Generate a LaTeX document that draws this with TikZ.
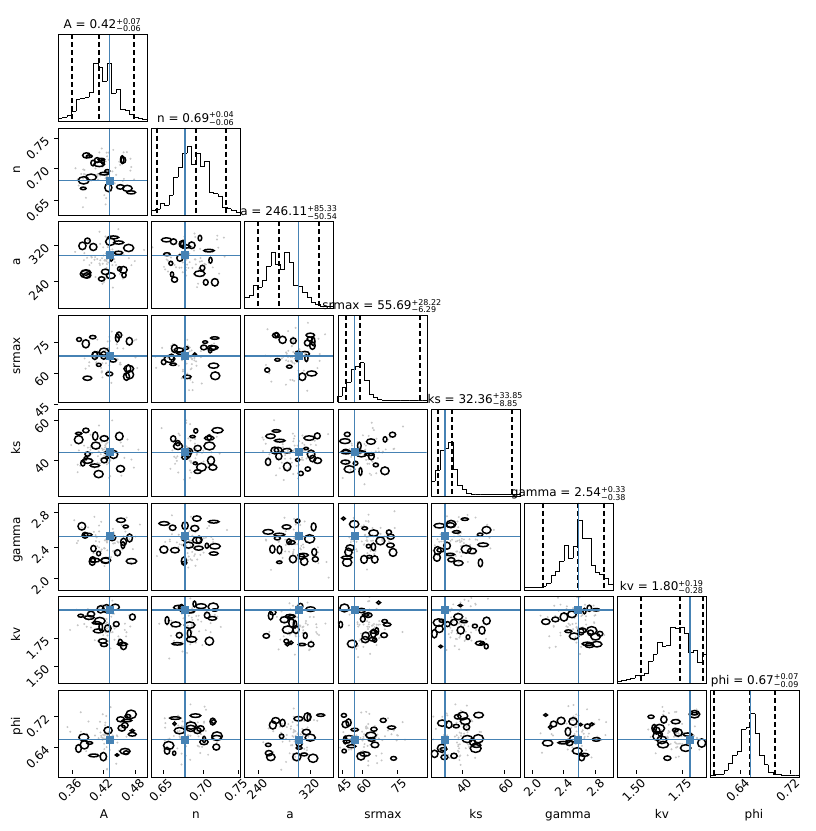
\documentclass[tikz,border=0pt]{standalone}
\usepackage{fontspec}
\setmainfont{DejaVu Sans}
\definecolor{tb}{HTML}{4682B4}
\newcommand\ud[2]{\ensuremath{^{\mbox{\fontsize{8}{9}\selectfont#1}}_{\mbox{\fontsize{8}{9}\selectfont#2}}}}
\begin{document}
\begin{tikzpicture}[x=1pt,y=-1pt,font=\fontsize{12}{14}\selectfont,
  tl/.style={inner sep=1pt}]
\useasboundingbox (0,0) rectangle (815,831);
\pgfmathsetseed{7}
\def\tx{{0.58,0.38,0.61,0.19,0.16,0.61,0.82,0.45}}
\def\ty{{0,0.61,0.39,0.47,0.5,0.39,0.16,0.57}}
\def\hc{{0.47,0.48,0.37,0.22,0.18,0.62,0.7,0.42}}
\def\hw{{0.22,0.25,0.25,0.12,0.12,0.22,0.3,0.15}}
% off-diagonal panels
\foreach \j in {1,...,7}{
 \pgfmathtruncatemacro\jm{\j-1}
 \foreach \i in {0,...,\jm}{
  \pgfmathsetmacro\X{58+\i*93.2}
  \pgfmathsetmacro\Y{34+\j*93.7}
  \pgfmathsetmacro\bx{\X+89*\tx[\i]}
  \pgfmathsetmacro\by{\Y+87*\ty[\j]}
  \pgfmathsetmacro\cx{0.5*\bx+0.5*(\X+44)}
  \pgfmathsetmacro\cy{0.5*\by+0.5*(\Y+43)}
  \begin{scope}
   \clip (\X,\Y) rectangle ({\X+89},{\Y+87});
   \foreach \k in {1,...,60}{\fill[gray!45] ({\cx+80*(rnd-0.5)*rnd},{\cy+75*(rnd-0.5)*rnd}) circle (1.1);}
   \foreach \k in {1,...,18}{\draw[line width=1.5pt] ({\cx+55*(rnd-0.5)},{\cy+45*(rnd-0.5)}) ellipse ({1.5+4*rnd} and {1.2+3*rnd});}
   \draw[tb,line width=1.4pt] (\bx,\Y) -- (\bx,{\Y+87});
   \draw[tb,line width=1.4pt] (\X,\by) -- ({\X+89},\by);
   \fill[tb] ({\bx-4},{\by-4}) rectangle ({\bx+4},{\by+4});
  \end{scope}
  \node[draw,line width=0.6pt,minimum width=89pt,minimum height=87pt,anchor=north west,inner sep=0] (p\i\j) at (\X,\Y) {};
 }}
% diagonal panels
\foreach \i/\ttl/\da/\db/\dc in {
 0/{A = 0.42\ud{+0.07}{−0.06}}/72/99/134,
 1/{n = 0.69\ud{+0.04}{−0.06}}/157/196/226,
 2/{a = 246.11\ud{+85.33}{−50.54}}/258/279/319,
 3/{srmax = 55.69\ud{+28.22}{−6.29}}/346/360/420,
 4/{ks = 32.36\ud{+33.85}{−8.85}}/438/452/512,
 5/{gamma = 2.54\ud{+0.33}{−0.38}}/543/578/604,
 6/{kv = 1.80\ud{+0.19}{−0.28}}/641/680/703,
 7/{phi = 0.67\ud{+0.07}{−0.09}}/714/750/775}{
  \pgfmathsetmacro\X{58+\i*93.2}
  \pgfmathsetmacro\Y{34+\i*93.7}
  \pgfmathsetmacro\Yb{\Y+87}
  \pgfmathsetmacro\bx{\X+89*\tx[\i]}
  \pgfmathsetmacro\c{\hc[\i]}
  \pgfmathsetmacro\w{\hw[\i]}
  \xdef\prev{0}
  \foreach \k in {0,...,19}{
   \pgfmathsetmacro\xa{\X+\k*4.45}
   \pgfmathsetmacro\f{(\k+0.5)/20}
   \pgfmathsetmacro\h{2+72*exp(-((\f-\c)/\w)^2)*(0.45+0.55*rnd)}
   \draw (\xa,{\Yb-\prev}) -- (\xa,{\Yb-\h}) -- ({\xa+4.45},{\Yb-\h});
   \xdef\prev{\h}
  }
  \draw[dash pattern=on 5pt off 3pt,line width=1.2pt] (\da,\Y) -- (\da,\Yb) (\db,\Y) -- (\db,\Yb) (\dc,\Y) -- (\dc,\Yb);
  \draw[tb,line width=1.4pt] (\bx,\Y) -- (\bx,\Yb);
  \node[draw,line width=0.6pt,minimum width=89pt,minimum height=87pt,anchor=north west,inner sep=0] (d\i) at (\X,\Y) {};
  \node[anchor=south,inner sep=2pt] (t\i) at ({\X+44.5},\Y) {\ttl};
}
% bottom tick labels
\foreach \x/\t in {72/0.36,103/0.42,135/0.48,163/0.65,203/0.70,238/0.75,258/240,310/320,
  342/45,362/60,397/75,462/40,504/60,532/2.0,563/2.4,595/2.8,636/1.50,682/1.75,740/0.64,790/0.72}{
  \draw (\x,770) -- (\x,774);
  \node[rotate=45,anchor=north east,inner sep=1pt] at ({\x+4},776) {\t};
}
% left tick labels
\foreach \y/\t in {138/0.75,168/0.70,200/0.65,245/320,281/240,342/75,373/60,404/45,
  420/60,460/40,512/2.8,547/2.4,578/2.0,638/1.75,666/1.50,716/0.72,747/0.64}{
  \draw (58,\y) -- (54,\y);
  \node[rotate=45,anchor=south east,inner sep=1pt] at (52,{\y+4}) {\t};
}
% axis names
\foreach \x/\t in {104/A,196/n,290/a,383/srmax,476/ks,568/gamma,662/kv,754/phi}{
  \node[anchor=base] (bx\t) at (\x,818) {\t};}
\foreach \y/\t in {170/n,262/a,356/srmax,448/ks,540/gamma,634/kv,726/phi}{
  \node[rotate=90,anchor=base] (ly\t) at (20,\y) {\t};}
\end{tikzpicture}
\end{document}
